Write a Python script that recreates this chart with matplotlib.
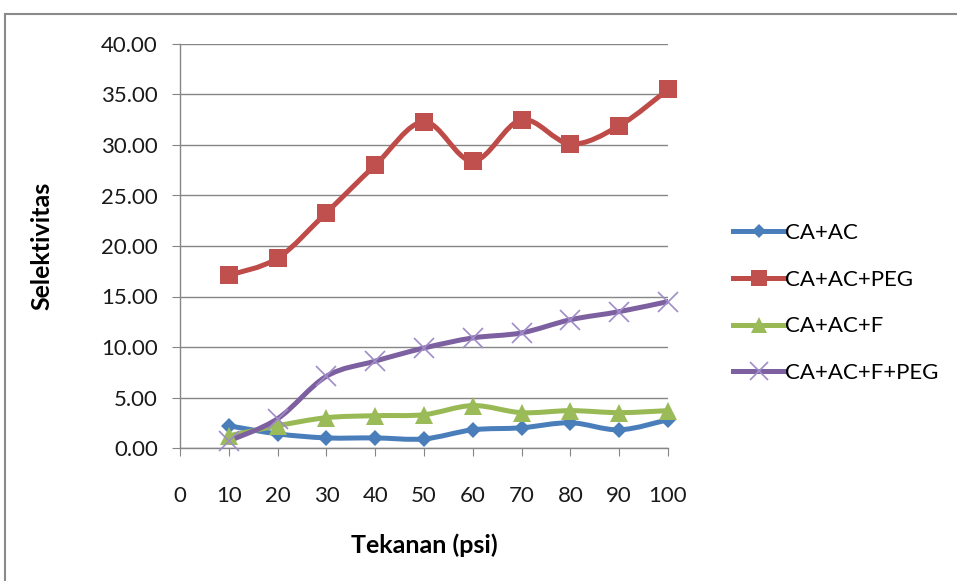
import numpy as np
import matplotlib
matplotlib.use("Agg")
import matplotlib.pyplot as plt
from matplotlib.path import Path
from matplotlib.patches import PathPatch
from matplotlib.lines import Line2D

plt.rcParams['font.family'] = ['Lato', 'DejaVu Sans']

tekanan = [10, 20, 30, 40, 50, 60, 70, 80, 90, 100]
ca_ac = [2.2, 1.4, 1.0, 1.0, 0.9, 1.8, 2.0, 2.5, 1.8, 2.8]
ca_ac_peg = [17.1, 18.8, 23.3, 28.0, 32.3, 28.4, 32.5, 30.1, 31.9, 35.5]
ca_ac_f = [1.2, 2.2, 3.0, 3.2, 3.3, 4.2, 3.5, 3.7, 3.5, 3.7]
ca_ac_f_peg = [0.7, 2.9, 7.1, 8.6, 9.9, 10.9, 11.4, 12.7, 13.5, 14.5]

series = [
    ("CA+AC", ca_ac, "#4A7EBB", "D", 8.5, "#4A7EBB"),
    ("CA+AC+PEG", ca_ac_peg, "#BE4B48", "s", 13.5, "#C0504D"),
    ("CA+AC+F", ca_ac_f, "#98B954", "^", 13.5, "#9BBB59"),
    ("CA+AC+F+PEG", ca_ac_f_peg, "#7D60A0", "x", 14.5, "#A08CC8"),
]


def smooth_path(x, y):
    # cubic bezier through every point (catmull-rom tangents)
    p = np.column_stack([x, y]).astype(float)
    n = len(p)
    verts = [p[0]]
    codes = [Path.MOVETO]
    for i in range(n - 1):
        p0 = p[i - 1] if i > 0 else p[i]
        p3 = p[i + 2] if i + 2 < n else p[i + 1]
        c1 = p[i] + (p[i + 1] - p0) / 6.0
        c2 = p[i + 1] - (p3 - p[i]) / 6.0
        verts += [c1, c2, p[i + 1]]
        codes += [Path.CURVE4] * 3
    return Path(verts, codes)


fig = plt.figure(figsize=(9.57, 5.81), dpi=100)
ax = fig.add_axes([180 / 957, 1 - 448 / 581, 488 / 957, 404 / 581])

# outer chart border
fig.add_artist(Line2D([5 / 957, 1.0], [1 - 14 / 581] * 2, transform=fig.transFigure,
                      color="#8A8A8A", lw=1.5))
fig.add_artist(Line2D([5 / 957] * 2, [0.0, 1 - 14 / 581], transform=fig.transFigure,
                      color="#8A8A8A", lw=1.5))

handles = []
for name, vals, col, mk, ms, mcol in series:
    ax.add_patch(PathPatch(smooth_path(tekanan, vals), fill=False, edgecolor=col,
                           lw=3.6, capstyle="round", joinstyle="round", zorder=3))
    if mk == "x":
        ax.plot(tekanan, vals, linestyle="none", marker=mk, ms=ms, mew=1.2,
                color=mcol, zorder=4, clip_on=False)
    else:
        ax.plot(tekanan, vals, linestyle="none", marker=mk, ms=ms, mew=0,
                color=mcol, zorder=4, clip_on=False)
    handles.append(Line2D([], [], color=col, lw=3.6, marker=mk, ms=ms * 0.85,
                          mew=1.2 if mk == "x" else 0, mfc=mcol, mec=mcol))

ax.set_xlim(0, 100)
ax.set_ylim(0, 40)
ax.set_xticks(np.arange(0, 101, 10))
ax.set_yticks(np.arange(0, 41, 5))
ax.set_yticklabels([f"{v:.2f}" for v in np.arange(0, 41, 5)])
ax.yaxis.grid(True, color="#868686", lw=1)
ax.set_axisbelow(True)
for s in ("top", "right"):
    ax.spines[s].set_visible(False)
for s in ("left", "bottom"):
    ax.spines[s].set_color("#868686")
    ax.spines[s].set_linewidth(1)
ax.tick_params(axis="both", direction="out", length=6, color="#868686",
               labelsize=16, labelcolor="#1a1a1a")
ax.tick_params(axis="x", pad=21)
ax.tick_params(axis="y", pad=10)

ax.set_xlabel("Tekanan (psi)", fontsize=18, fontweight="bold", labelpad=20)
ax.set_ylabel("Selektivitas", fontsize=18, fontweight="bold", labelpad=34)

fig.legend(handles, [s[0] for s in series], loc="upper left",
           bbox_to_anchor=(713 / 957, 1 - 203 / 581), frameon=False,
           fontsize=16, handlelength=2.3, handletextpad=0.05, labelspacing=1.2)

fig.savefig("out.png", dpi=100)
